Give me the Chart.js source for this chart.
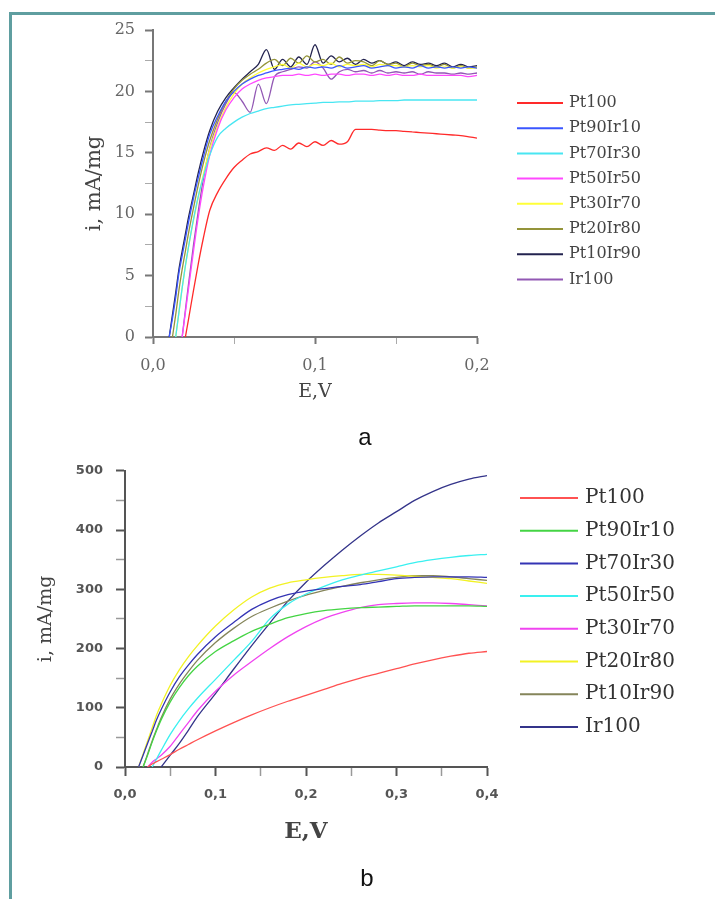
<!DOCTYPE html>
<html>
<head>
<meta charset="utf-8">
<script src="https://cdn.jsdelivr.net/npm/chart.js@4.4.0/dist/chart.umd.min.js"></script>
<style>
body { margin: 0; background: #fff; width: 715px; height: 899px; position: relative; overflow: hidden; }
#marco { position: absolute; left: 9px; top: 12px; width: 706px; height: 887px; border-top: 3px solid #5f9ea0; border-left: 3px solid #5f9ea0; }
canvas { position: absolute; left: 0; }
#grafica_a { top: 0; }
#grafica_b { top: 450px; }
.letra { position: absolute; font: 24px "Liberation Sans", Arial, sans-serif; color: #111; transform: translate(-50%, -50%); }
</style>
</head>
<body>
<div id="marco"></div>
<canvas id="grafica_a" width="715" height="450"></canvas>
<canvas id="grafica_b" width="715" height="449"></canvas>
<div class="letra" style="left:365px;top:437px">a</div>
<div class="letra" style="left:367px;top:878px">b</div>
<script>
// grafica a: E (V) vs i (mA/mg)
const etiquetasA = ['Pt100', 'Pt90Ir10', 'Pt70Ir30', 'Pt50Ir50', 'Pt30Ir70', 'Pt20Ir80', 'Pt10Ir90', 'Ir100'];
const coloresA = ['#ff2a2a', '#3a56ff', '#48e6f2', '#ff48ff', '#ffff38', '#94943a', '#23234f', '#9258b4'];
const eA = [0.010, 0.012, 0.014, 0.016, 0.018, 0.020, 0.022, 0.025, 0.028, 0.031, 0.035, 0.040, 0.045, 0.050,
    0.055, 0.060, 0.065, 0.070, 0.075, 0.080, 0.085, 0.090, 0.095, 0.100, 0.105, 0.110, 0.115, 0.120, 0.125,
    0.130, 0.135, 0.140, 0.145, 0.150, 0.155, 0.160, 0.165, 0.170, 0.175, 0.180, 0.185, 0.190, 0.195, 0.200];
const pt100A = [null, null, null, null, null, 0, 1.5, 3.8, 6, 8, 10.3, 11.8, 12.9, 13.8, 14.4, 14.9, 15.1, 15.4, 15.2, 15.6,
    15.3, 15.8, 15.5, 15.9, 15.6, 16.0, 15.7, 15.9, 16.9, 16.9, 16.9, 16.85, 16.8, 16.8, 16.75, 16.7, 16.65, 16.6, 16.55, 16.5,
    16.45, 16.4, 16.3, 16.2];
const pt90A = [0, 1.5, 3.2, 5.2, 6.6, 8, 9.4, 11.3, 13, 14.6, 16.5, 18, 19.2, 20, 20.6, 21, 21.3, 21.5, 21.7, 21.8,
    21.9, 21.8, 22.0, 21.9, 22.0, 21.9, 22.1, 21.9, 22.0, 22.1, 21.9, 22.0, 22.1, 21.9, 22.0, 21.9, 22.1, 21.9, 22.0, 21.9,
    22.0, 21.9, 22.0, 21.9];
const pt70A = [null, null, 0, 2, 4, 5.8, 7.4, 9.6, 11.5, 13, 14.8, 16.3, 17.0, 17.5, 17.9, 18.2, 18.4, 18.6, 18.7, 18.8,
    18.9, 18.95, 19.0, 19.05, 19.1, 19.1, 19.15, 19.15, 19.2, 19.2, 19.2, 19.25, 19.25, 19.25, 19.3, 19.3, 19.3, 19.3, 19.3, 19.3,
    19.3, 19.3, 19.3, 19.3];
const pt50A = [null, null, null, null, 0, 2, 4, 7, 9.8, 12.2, 14.8, 17, 18.5, 19.5, 20.2, 20.6, 20.9, 21.1, 21.2, 21.3,
    21.3, 21.4, 21.3, 21.4, 21.3, 21.4, 21.4, 21.3, 21.4, 21.4, 21.3, 21.4, 21.3, 21.4, 21.3, 21.3, 21.4, 21.3, 21.3, 21.3,
    21.3, 21.3, 21.2, 21.3];
const pt30A = [null, null, 0, 2, 4, 5.8, 7.4, 9.5, 11.4, 13.2, 15.3, 17.2, 18.7, 19.8, 20.6, 21.1, 21.5, 21.8, 22.0, 22.2,
    21.9, 22.3, 22.0, 22.2, 22.1, 22.3, 22.0, 22.2, 22.1, 22.2, 22.0, 22.2, 22.1, 22.1, 22.0, 22.1, 22.0, 22.1, 21.9, 22.0,
    21.9, 22.0, 21.9, 21.9];
const pt20A = [null, 0, 1.8, 3.8, 5.5, 7, 8.5, 10.5, 12.4, 14.1, 16, 17.8, 19.2, 20.2, 20.9, 21.4, 21.8, 22.3, 22.6, 22.1,
    22.7, 22.3, 22.9, 22.4, 22.6, 22.2, 22.8, 22.3, 22.5, 22.4, 22.1, 22.5, 22.2, 22.3, 22.0, 22.3, 22.1, 22.2, 22.0, 22.2,
    21.9, 22.1, 21.9, 22.0];
const pt10A = [0, 1.8, 3.6, 5.5, 7, 8.4, 9.8, 11.6, 13.4, 15, 16.8, 18.4, 19.5, 20.3, 21, 21.6, 22.2, 23.4, 21.8, 22.6,
    22.0, 22.8, 22.2, 23.8, 22.3, 22.9, 22.4, 22.7, 22.2, 22.6, 22.3, 22.5, 22.2, 22.4, 22.1, 22.4, 22.2, 22.3, 22.1, 22.3,
    22.0, 22.2, 22.0, 22.1];
const ir100A = [null, null, null, null, 0, 2.2, 4.4, 7.5, 10.3, 12.8, 15.4, 17.5, 19, 19.9, 19.2, 18.3, 20.6, 19.0, 21.2, 21.6,
    21.8, 22.0, 21.9, 22.4, 21.9, 21.0, 21.6, 21.8, 21.6, 21.7, 21.5, 21.7, 21.5, 21.6, 21.5, 21.6, 21.4, 21.6, 21.5, 21.5,
    21.4, 21.5, 21.4, 21.5];
const seriesA = [pt100A, pt90A, pt70A, pt50A, pt30A, pt20A, pt10A, ir100A];

// grafica b
const etiquetasB = ['Pt100', 'Pt90Ir10', 'Pt70Ir30', 'Pt50Ir50', 'Pt30Ir70', 'Pt20Ir80', 'Pt10Ir90', 'Ir100'];
const coloresB = ['#ff5252', '#44d444', '#3434b4', '#3af0f0', '#f044f0', '#f2f224', '#85855a', '#34348a'];
const eB = [0.015, 0.02, 0.025, 0.03, 0.035, 0.04, 0.05, 0.06, 0.07, 0.08, 0.1, 0.12, 0.14, 0.16, 0.18, 0.2,
    0.22, 0.24, 0.26, 0.28, 0.3, 0.32, 0.34, 0.36, 0.38, 0.4];
const pt100B = [null, null, 0, 5, 9, 13, 21, 30, 38, 46, 61, 75, 88, 100, 111, 121, 131, 141, 150, 158, 166, 174, 181, 187, 192, 195];
const pt90B = [null, 0, 20, 42, 62, 80, 110, 134, 154, 170, 195, 213, 229, 241, 252, 259, 264, 267, 269, 270, 271, 272, 272, 272, 272, 271];
const pt70B = [0, 20, 40, 60, 80, 97, 127, 152, 172, 190, 220, 244, 266, 281, 291, 297, 301, 305, 308, 313, 318, 320, 321, 321, 321, 320];
const pt50B = [null, null, null, 0, 14, 28, 55, 78, 98, 116, 148, 180, 212, 250, 275, 292, 305, 316, 324, 331, 338, 345, 350, 354, 357, 359];
const pt30B = [null, null, 0, 8, 14, 20, 35, 55, 75, 95, 128, 155, 178, 200, 220, 237, 251, 261, 269, 274, 276, 277, 277, 276, 274, 272];
const pt20B = [0, 22, 44, 66, 88, 106, 138, 164, 186, 205, 238, 265, 287, 302, 311, 316, 320, 323, 325, 325, 324, 322, 320, 318, 314, 310];
const pt10B = [null, 0, 22, 44, 64, 83, 115, 140, 161, 180, 210, 234, 254, 268, 280, 290, 298, 305, 311, 316, 320, 323, 323, 321, 318, 315];
const ir100B = [null, null, null, null, null, 0, 20, 40, 62, 85, 124, 165, 205, 243, 280, 312, 340, 366, 390, 412, 431, 450, 465, 477, 486, 492];
const seriesB = [pt100B, pt90B, pt70B, pt50B, pt30B, pt20B, pt10B, ir100B];

const esMultiplo = (v, paso) => Math.abs(v / paso - Math.round(v / paso)) < 1e-6;
const coma = v => v.toFixed(1).replace('.', ',');

const armarDatasets = (etiquetas, colores, eje, series) => etiquetas.map((nombre, k) => ({
    label: nombre,
    data: eje.map((e, j) => ({ x: e, y: series[k][j] })),
    borderColor: colores[k],
    borderWidth: 1.3,
    pointRadius: 0,
    cubicInterpolationMode: 'monotone',
    fill: false
}));

// leyenda dibujada a mano: linea + texto por serie
const leyenda = {
    id: 'leyenda',
    afterDraw(chart, args, op) {
        const ctx = chart.ctx;
        ctx.save();
        ctx.font = op.font;
        ctx.textBaseline = 'middle';
        chart.data.datasets.forEach((ds, k) => {
            const y = op.top + k * op.paso;
            ctx.strokeStyle = ds.borderColor;
            ctx.lineWidth = 2;
            ctx.beginPath();
            ctx.moveTo(op.left, y);
            ctx.lineTo(op.left + op.largo, y);
            ctx.stroke();
            ctx.fillStyle = op.color;
            ctx.fillText(ds.label, op.left + op.largo + op.hueco, y);
        });
        ctx.restore();
    }
};

const instanciaA = document.getElementById('grafica_a').getContext('2d');
const graficaA = new Chart(instanciaA, {
    type: 'line',
    data: { datasets: armarDatasets(etiquetasA, coloresA, eA, seriesA) },
    plugins: [leyenda],
    options: {
        responsive: false,
        animation: false,
        layout: { padding: { left: 82, top: 30, right: 238, bottom: 47 } },
        plugins: {
            legend: { display: false },
            tooltip: { enabled: false },
            leyenda: { left: 517, top: 103, paso: 25.2, largo: 46, hueco: 6, font: '16px "DejaVu Serif"', color: '#444' }
        },
        scales: {
            x: {
                type: 'linear', min: 0, max: 0.2,
                afterFit: s => { s.height = 66; },
                ticks: {
                    stepSize: 0.05, padding: 12, autoSkip: false, maxRotation: 0, color: '#666',
                    font: { family: 'DejaVu Serif', size: 16 },
                    callback: v => esMultiplo(v, 0.1) ? coma(v) : ''
                },
                grid: {
                    drawOnChartArea: false, tickLength: 7,
                    tickColor: c => c.tick && esMultiplo(c.tick.value, 0.1) ? '#777' : '#aaa',
                    tickWidth: c => c.tick && esMultiplo(c.tick.value, 0.1) ? 2 : 1
                },
                border: { color: '#777', width: 2 },
                title: { display: true, text: 'E,V', color: '#444', padding: 0, font: { family: 'DejaVu Serif', size: 19 } }
            },
            y: {
                type: 'linear', min: 0, max: 25,
                afterFit: s => { s.width = 71; },
                ticks: {
                    stepSize: 2.5, padding: 10, autoSkip: false, color: '#666',
                    font: { family: 'DejaVu Serif', size: 16 },
                    callback: v => esMultiplo(v, 5) ? String(v) : ''
                },
                grid: {
                    drawOnChartArea: false, tickLength: 8,
                    tickColor: c => c.tick && esMultiplo(c.tick.value, 5) ? '#777' : '#aaa',
                    tickWidth: c => c.tick && esMultiplo(c.tick.value, 5) ? 2 : 1
                },
                border: { color: '#777', width: 2 },
                title: { display: true, text: 'i, mA/mg', color: '#444', padding: 0, font: { family: 'DejaVu Serif', size: 21 } }
            }
        }
    }
});

const instanciaB = document.getElementById('grafica_b').getContext('2d');
const graficaB = new Chart(instanciaB, {
    type: 'line',
    data: { datasets: armarDatasets(etiquetasB, coloresB, eB, seriesB) },
    plugins: [leyenda],
    options: {
        responsive: false,
        animation: false,
        layout: { padding: { left: 35, top: 12, right: 228, bottom: 53 } },
        plugins: {
            legend: { display: false },
            tooltip: { enabled: false },
            leyenda: { left: 520, top: 48, paso: 32.7, largo: 58, hueco: 7, font: '20px "DejaVu Serif"', color: '#333' }
        },
        scales: {
            x: {
                type: 'linear', min: 0, max: 0.4,
                afterFit: s => { s.height = 79; },
                ticks: {
                    stepSize: 0.05, padding: 11, autoSkip: false, maxRotation: 0, color: '#555',
                    font: { family: 'DejaVu Sans', size: 13, weight: 'bold' },
                    callback: v => esMultiplo(v, 0.1) ? coma(v) : ''
                },
                grid: {
                    drawOnChartArea: false, tickLength: 9,
                    tickColor: c => c.tick && esMultiplo(c.tick.value, 0.1) ? '#555' : '#999',
                    tickWidth: c => c.tick && esMultiplo(c.tick.value, 0.1) ? 2 : 1.5
                },
                border: { color: '#555', width: 2 },
                title: { display: true, text: 'E,V', color: '#444', padding: 0, font: { family: 'DejaVu Serif', size: 23, weight: 'bold' } }
            },
            y: {
                type: 'linear', min: 0, max: 500,
                afterFit: s => { s.width = 90; },
                ticks: {
                    stepSize: 50, padding: 13, autoSkip: false, color: '#555',
                    font: { family: 'DejaVu Sans', size: 13, weight: 'bold' },
                    callback: v => esMultiplo(v, 100) ? String(v) : ''
                },
                grid: {
                    drawOnChartArea: false, tickLength: 9,
                    tickColor: c => c.tick && esMultiplo(c.tick.value, 100) ? '#555' : '#999',
                    tickWidth: c => c.tick && esMultiplo(c.tick.value, 100) ? 2 : 1.5
                },
                border: { color: '#555', width: 2 },
                title: { display: true, text: 'i, mA/mg', color: '#444', padding: 0, font: { family: 'DejaVu Serif', size: 19 } }
            }
        }
    }
});
</script>
</body>
</html>
